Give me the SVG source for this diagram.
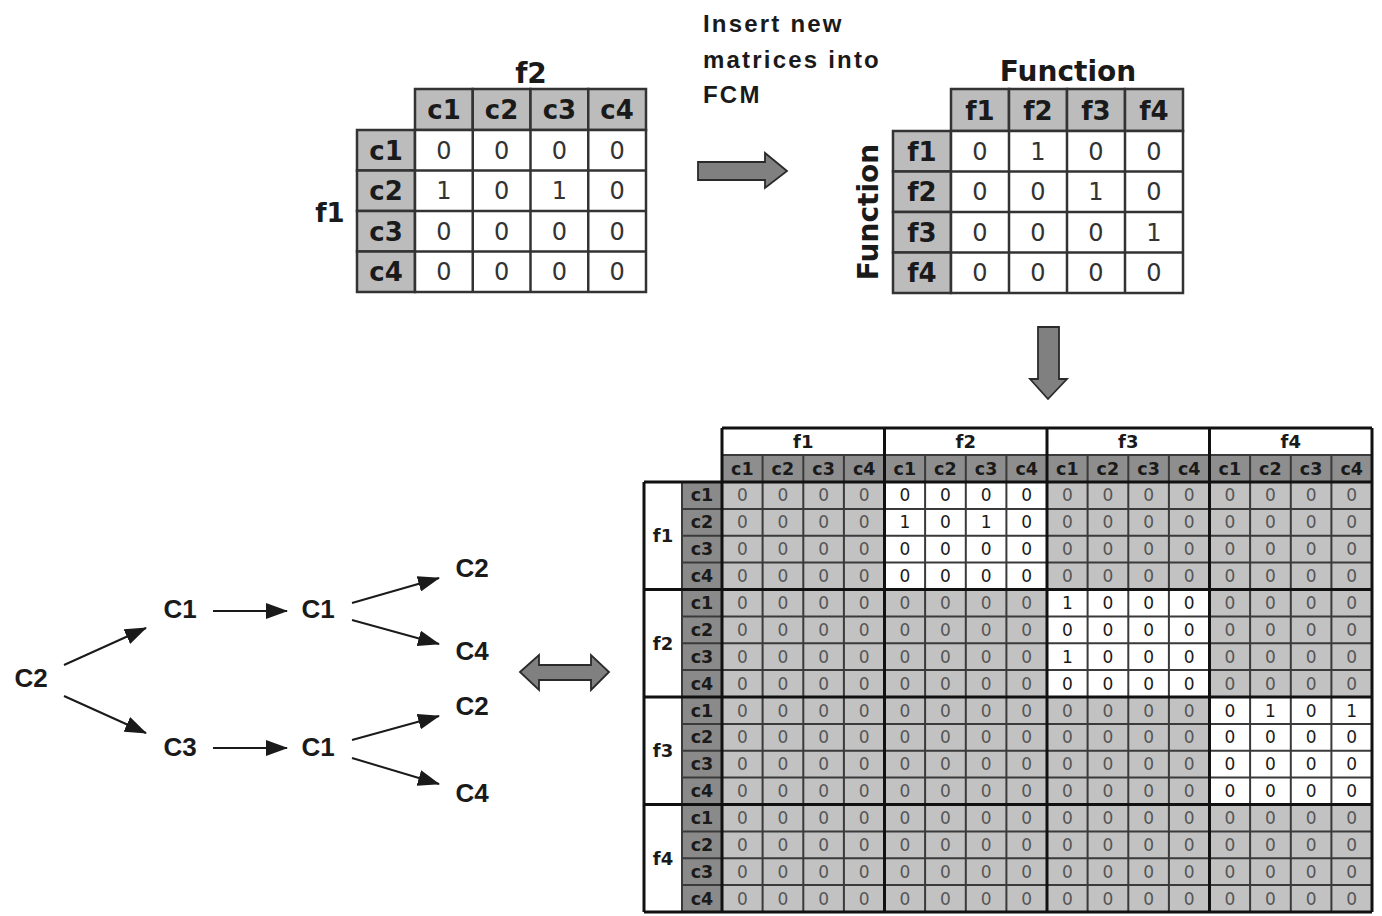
<svg xmlns="http://www.w3.org/2000/svg" width="1382" height="916" viewBox="0 0 1382 916">
<style>
.hdr{fill:#bcbcbc;stroke:#333;stroke-width:2.5}
.cellw{fill:#fff;stroke:#333;stroke-width:2.5}
.tb{font-family:'DejaVu Sans',Verdana,sans-serif;font-weight:bold;font-size:26px;fill:#1a1a1a;text-anchor:middle;dominant-baseline:central}
.tv{font-family:'DejaVu Sans',Verdana,sans-serif;font-size:24px;fill:#333;text-anchor:middle;dominant-baseline:central}
.ttl{font-family:'DejaVu Sans',Verdana,sans-serif;font-weight:bold;font-size:28px;fill:#1a1a1a;text-anchor:middle}
.ins{font-family:'Liberation Sans',Arial,sans-serif;font-weight:bold;font-size:24px;fill:#1a1a1a;letter-spacing:2.2px}
.node{font-family:'Liberation Sans',Arial,sans-serif;font-weight:bold;font-size:26px;fill:#1a1a1a;text-anchor:middle;dominant-baseline:central}
.bigarrow{fill:#808080;stroke:#2a2a2a;stroke-width:1.8;stroke-linejoin:miter}
.fl{font-family:'DejaVu Sans',Verdana,sans-serif;font-weight:bold;font-size:18px;fill:#1a1a1a;text-anchor:middle;dominant-baseline:central}
.cl{font-family:'DejaVu Sans',Verdana,sans-serif;font-weight:bold;font-size:17.5px;fill:#1a1a1a;text-anchor:middle;dominant-baseline:central}
.z{font-family:'DejaVu Sans',Verdana,sans-serif;font-size:17px;fill:#555;text-anchor:middle;dominant-baseline:central}
.w{fill:#1a1a1a}
.edge{stroke:#1a1a1a;stroke-width:2;fill:none;marker-end:url(#ah)}
</style>
<defs>
<marker id="ah" markerUnits="userSpaceOnUse" markerWidth="22" markerHeight="16" refX="21" refY="8" orient="auto">
<path d="M0,0 L22,8 L0,16 Z" fill="#1a1a1a"/>
</marker>
</defs>
<rect width="1382" height="916" fill="#fff"/>

<!-- Top-left matrix f1 x f2 -->
<g id="matrix-f1f2">
<text class="ttl" x="531" y="83">f2</text>
<text class="tb" x="330" y="213">f1</text>
<rect class="hdr" x="415" y="89" width="57.75" height="41"/>
<rect class="hdr" x="472.75" y="89" width="57.75" height="41"/>
<rect class="hdr" x="530.5" y="89" width="57.75" height="41"/>
<rect class="hdr" x="588.25" y="89" width="57.75" height="41"/>
<rect class="hdr" x="357" y="130" width="58" height="40.5"/>
<rect class="hdr" x="357" y="170.5" width="58" height="40.5"/>
<rect class="hdr" x="357" y="211" width="58" height="40.5"/>
<rect class="hdr" x="357" y="251.5" width="58" height="40.5"/>
<rect class="cellw" x="415" y="130" width="231" height="162"/>
<path d="M472.75,130V292 M530.5,130V292 M588.25,130V292 M415,170.5H646 M415,211H646 M415,251.5H646" stroke="#333" stroke-width="2.5"/>
<text class="tb" x="444" y="110">c1</text>
<text class="tb" x="501.6" y="110">c2</text>
<text class="tb" x="559.4" y="110">c3</text>
<text class="tb" x="617.1" y="110">c4</text>
<text class="tb" x="386" y="150.5">c1</text>
<text class="tb" x="386" y="191">c2</text>
<text class="tb" x="386" y="231.5">c3</text>
<text class="tb" x="386" y="272">c4</text>
<text class="tv" x="444 501.6 559.4 617.1" y="150.5">0000</text>
<text class="tv" x="444 501.6 559.4 617.1" y="191">1010</text>
<text class="tv" x="444 501.6 559.4 617.1" y="231.5">0000</text>
<text class="tv" x="444 501.6 559.4 617.1" y="272">0000</text>
</g>

<!-- Insert label -->
<g id="insert-label">
<text class="ins" x="703" y="32">Insert new</text>
<text class="ins" x="703" y="68">matrices into</text>
<text class="ins" x="703" y="103">FCM</text>
</g>

<!-- Top-right function matrix -->
<g id="matrix-function">
<text class="ttl" x="1068" y="81">Function</text>
<text class="ttl" x="0" y="0" transform="translate(878,212) rotate(-90)">Function</text>
<rect class="hdr" x="951" y="89" width="58" height="42"/>
<rect class="hdr" x="1009" y="89" width="58" height="42"/>
<rect class="hdr" x="1067" y="89" width="58" height="42"/>
<rect class="hdr" x="1125" y="89" width="58" height="42"/>
<rect class="hdr" x="893" y="131" width="58" height="40.5"/>
<rect class="hdr" x="893" y="171.5" width="58" height="40.5"/>
<rect class="hdr" x="893" y="212" width="58" height="40.5"/>
<rect class="hdr" x="893" y="252.5" width="58" height="40.5"/>
<rect class="cellw" x="951" y="131" width="232" height="162"/>
<path d="M1009,131V293 M1067,131V293 M1125,131V293 M951,171.5H1183 M951,212H1183 M951,252.5H1183" stroke="#333" stroke-width="2.5"/>
<text class="tb" x="980" y="111">f1</text>
<text class="tb" x="1038" y="111">f2</text>
<text class="tb" x="1096" y="111">f3</text>
<text class="tb" x="1154" y="111">f4</text>
<text class="tb" x="922" y="151.5">f1</text>
<text class="tb" x="922" y="192">f2</text>
<text class="tb" x="922" y="232.5">f3</text>
<text class="tb" x="922" y="273">f4</text>
<text class="tv" x="980 1038 1096 1154" y="151.5">0100</text>
<text class="tv" x="980 1038 1096 1154" y="192">0010</text>
<text class="tv" x="980 1038 1096 1154" y="232.5">0001</text>
<text class="tv" x="980 1038 1096 1154" y="273">0000</text>
</g>

<!-- Big block arrows -->
<g id="arrow-right">
<path class="bigarrow" d="M698,162 H765 V153 L787,171 L765,188 V180 H698 Z"/>
</g>
<g id="arrow-down">
<path class="bigarrow" d="M1038,327 H1059 V379 H1067 L1048,399 L1030,379 H1038 Z"/>
</g>
<g id="arrow-double">
<path class="bigarrow" d="M520,672 L539,655 V665 H591 V655 L609,672 L591,690 V680 H539 V690 Z"/>
</g>

<!-- Tree nodes -->
<g id="n-root"><text class="node" x="31" y="678">C2</text></g>
<g id="n-c1a"><text class="node" x="180" y="609">C1</text></g>
<g id="n-c1b"><text class="node" x="318" y="609">C1</text></g>
<g id="n-c2a"><text class="node" x="472" y="568">C2</text></g>
<g id="n-c4a"><text class="node" x="472" y="651">C4</text></g>
<g id="n-c3"><text class="node" x="180" y="747">C3</text></g>
<g id="n-c1c"><text class="node" x="318" y="747">C1</text></g>
<g id="n-c2b"><text class="node" x="472" y="706">C2</text></g>
<g id="n-c4b"><text class="node" x="472" y="793">C4</text></g>

<g id="connectors">
<line class="edge" x1="64" y1="665" x2="146" y2="628"/>
<line class="edge" x1="64" y1="696" x2="146" y2="733"/>
<line class="edge" x1="213" y1="611" x2="287" y2="611"/>
<line class="edge" x1="352" y1="603" x2="439" y2="578"/>
<line class="edge" x1="352" y1="620" x2="439" y2="644"/>
<line class="edge" x1="213" y1="748" x2="287" y2="748"/>
<line class="edge" x1="352" y1="740" x2="439" y2="716"/>
<line class="edge" x1="352" y1="758" x2="439" y2="784"/>
</g>

<!-- Big FCM matrix -->
<g id="fcm-matrix">
<rect x="722" y="428" width="650" height="27" fill="#fff"/>
<rect x="722" y="455" width="650" height="27" fill="#8e8e8e"/>
<rect x="644" y="482" width="38" height="430" fill="#fff"/>
<rect x="682" y="482" width="40" height="430" fill="#8a8a8a"/>
<rect x="722" y="482" width="650" height="430" fill="#c2c2c2"/>
<rect x="884.5" y="482" width="162.5" height="107.5" fill="#fff"/>
<rect x="1047" y="589.5" width="162.5" height="107.5" fill="#fff"/>
<rect x="1209.5" y="697" width="162.5" height="107.5" fill="#fff"/>
<path d="M762.6,455V912 M803.3,455V912 M843.9,455V912 M925.1,455V912 M965.8,455V912 M1006.4,455V912 M1087.6,455V912 M1128.3,455V912 M1168.9,455V912 M1250.1,455V912 M1290.8,455V912 M1331.4,455V912 M682,508.9H1372 M682,535.8H1372 M682,562.6H1372 M682,616.4H1372 M682,643.3H1372 M682,670.1H1372 M682,723.9H1372 M682,750.8H1372 M682,777.6H1372 M682,831.4H1372 M682,858.3H1372 M682,885.1H1372 M722,455H1372 M682,482V912" stroke="#3a3a3a" stroke-width="2"/>
<path d="M722,428H1372 M722,428V912 M884.5,428V912 M1047,428V912 M1209.5,428V912 M1372,428V912 M644,482H1372 M644,589.5H1372 M644,697H1372 M644,804.5H1372 M644,912H1372 M644,482V912" stroke="#111" stroke-width="3"/>
<text class="fl" x="803.3" y="441.5">f1</text>
<text class="fl" x="965.8" y="441.5">f2</text>
<text class="fl" x="1128.3" y="441.5">f3</text>
<text class="fl" x="1290.8" y="441.5">f4</text>
<text class="cl" x="742.3" y="468.5">c1</text><text class="cl" x="782.9" y="468.5">c2</text><text class="cl" x="823.6" y="468.5">c3</text><text class="cl" x="864.2" y="468.5">c4</text>
<text class="cl" x="904.8" y="468.5">c1</text><text class="cl" x="945.4" y="468.5">c2</text><text class="cl" x="986.1" y="468.5">c3</text><text class="cl" x="1026.7" y="468.5">c4</text>
<text class="cl" x="1067.3" y="468.5">c1</text><text class="cl" x="1107.9" y="468.5">c2</text><text class="cl" x="1148.6" y="468.5">c3</text><text class="cl" x="1189.2" y="468.5">c4</text>
<text class="cl" x="1229.8" y="468.5">c1</text><text class="cl" x="1270.4" y="468.5">c2</text><text class="cl" x="1311.1" y="468.5">c3</text><text class="cl" x="1351.7" y="468.5">c4</text>
<text class="fl" x="663" y="535.8">f1</text>
<text class="fl" x="663" y="643.3">f2</text>
<text class="fl" x="663" y="750.8">f3</text>
<text class="fl" x="663" y="858.3">f4</text>
<text class="cl" x="702" y="495.4">c1</text><text class="cl" x="702" y="522.3">c2</text><text class="cl" x="702" y="549.2">c3</text><text class="cl" x="702" y="576.1">c4</text>
<text class="cl" x="702" y="603">c1</text><text class="cl" x="702" y="629.8">c2</text><text class="cl" x="702" y="656.7">c3</text><text class="cl" x="702" y="683.6">c4</text>
<text class="cl" x="702" y="710.5">c1</text><text class="cl" x="702" y="737.4">c2</text><text class="cl" x="702" y="764.3">c3</text><text class="cl" x="702" y="791.2">c4</text>
<text class="cl" x="702" y="818.1">c1</text><text class="cl" x="702" y="845">c2</text><text class="cl" x="702" y="871.8">c3</text><text class="cl" x="702" y="898.7">c4</text>
<text class="z" x="742.3 782.9 823.6 864.2 904.8 945.4 986.1 1026.7 1067.3 1107.9 1148.6 1189.2 1229.8 1270.4 1311.1 1351.7" y="495.4">0000<tspan class="w">0000</tspan>00000000</text>
<text class="z" x="742.3 782.9 823.6 864.2 904.8 945.4 986.1 1026.7 1067.3 1107.9 1148.6 1189.2 1229.8 1270.4 1311.1 1351.7" y="522.3">0000<tspan class="w">1010</tspan>00000000</text>
<text class="z" x="742.3 782.9 823.6 864.2 904.8 945.4 986.1 1026.7 1067.3 1107.9 1148.6 1189.2 1229.8 1270.4 1311.1 1351.7" y="549.2">0000<tspan class="w">0000</tspan>00000000</text>
<text class="z" x="742.3 782.9 823.6 864.2 904.8 945.4 986.1 1026.7 1067.3 1107.9 1148.6 1189.2 1229.8 1270.4 1311.1 1351.7" y="576.1">0000<tspan class="w">0000</tspan>00000000</text>
<text class="z" x="742.3 782.9 823.6 864.2 904.8 945.4 986.1 1026.7 1067.3 1107.9 1148.6 1189.2 1229.8 1270.4 1311.1 1351.7" y="603">00000000<tspan class="w">1000</tspan>0000</text>
<text class="z" x="742.3 782.9 823.6 864.2 904.8 945.4 986.1 1026.7 1067.3 1107.9 1148.6 1189.2 1229.8 1270.4 1311.1 1351.7" y="629.8">00000000<tspan class="w">0000</tspan>0000</text>
<text class="z" x="742.3 782.9 823.6 864.2 904.8 945.4 986.1 1026.7 1067.3 1107.9 1148.6 1189.2 1229.8 1270.4 1311.1 1351.7" y="656.7">00000000<tspan class="w">1000</tspan>0000</text>
<text class="z" x="742.3 782.9 823.6 864.2 904.8 945.4 986.1 1026.7 1067.3 1107.9 1148.6 1189.2 1229.8 1270.4 1311.1 1351.7" y="683.6">00000000<tspan class="w">0000</tspan>0000</text>
<text class="z" x="742.3 782.9 823.6 864.2 904.8 945.4 986.1 1026.7 1067.3 1107.9 1148.6 1189.2 1229.8 1270.4 1311.1 1351.7" y="710.5">000000000000<tspan class="w">0101</tspan></text>
<text class="z" x="742.3 782.9 823.6 864.2 904.8 945.4 986.1 1026.7 1067.3 1107.9 1148.6 1189.2 1229.8 1270.4 1311.1 1351.7" y="737.4">000000000000<tspan class="w">0000</tspan></text>
<text class="z" x="742.3 782.9 823.6 864.2 904.8 945.4 986.1 1026.7 1067.3 1107.9 1148.6 1189.2 1229.8 1270.4 1311.1 1351.7" y="764.3">000000000000<tspan class="w">0000</tspan></text>
<text class="z" x="742.3 782.9 823.6 864.2 904.8 945.4 986.1 1026.7 1067.3 1107.9 1148.6 1189.2 1229.8 1270.4 1311.1 1351.7" y="791.2">000000000000<tspan class="w">0000</tspan></text>
<text class="z" x="742.3 782.9 823.6 864.2 904.8 945.4 986.1 1026.7 1067.3 1107.9 1148.6 1189.2 1229.8 1270.4 1311.1 1351.7" y="818.1">0000000000000000</text>
<text class="z" x="742.3 782.9 823.6 864.2 904.8 945.4 986.1 1026.7 1067.3 1107.9 1148.6 1189.2 1229.8 1270.4 1311.1 1351.7" y="845">0000000000000000</text>
<text class="z" x="742.3 782.9 823.6 864.2 904.8 945.4 986.1 1026.7 1067.3 1107.9 1148.6 1189.2 1229.8 1270.4 1311.1 1351.7" y="871.8">0000000000000000</text>
<text class="z" x="742.3 782.9 823.6 864.2 904.8 945.4 986.1 1026.7 1067.3 1107.9 1148.6 1189.2 1229.8 1270.4 1311.1 1351.7" y="898.7">0000000000000000</text>
</g>
</svg>
